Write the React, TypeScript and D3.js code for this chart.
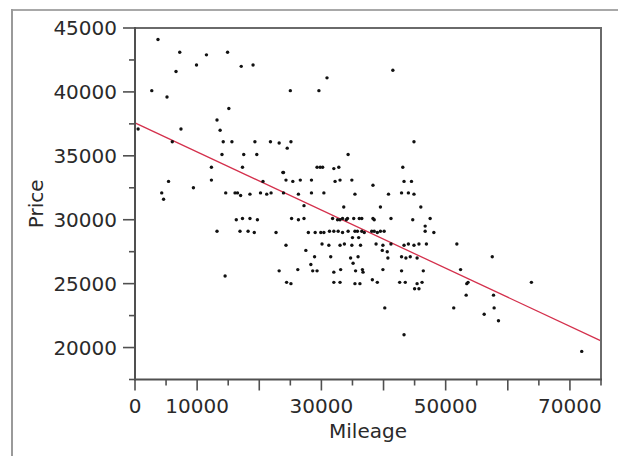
import React from "react";
import * as d3 from "d3";

const mileage = [
  3700, 7200, 11500, 14900, 6600, 9900, 17100, 19000, 2700, 5150,
  25000, 15100, 13200, 13700, 500, 7400, 6000, 14200, 15600, 19300,
  21800, 23200, 25100, 24500, 30900, 29600, 41500, 44900, 14000, 17500,
  19600, 34300, 12300, 17300, 23800, 23900, 29300, 29800, 30200, 32000,
  32800, 12300, 20600, 24300, 25400, 26600, 28400, 32200, 33000, 34900,
  38300, 14600, 16100, 16500, 17000, 18500, 20200, 21200, 21900, 23900,
  26300, 28400, 30400, 35400, 40800, 27200, 33600, 39500, 16300, 17300,
  18500, 19700, 25200, 26300, 27200, 31800, 32600, 33000, 33400, 34000,
  34200, 35200, 36100, 36500, 38300, 38500, 41200, 13200, 16900, 18200,
  19200, 22700, 27900, 29000, 29900, 30400, 31300, 32000, 32700, 33400,
  34300, 35400, 35800, 36500, 36900, 38100, 38500, 39000, 39500, 40100,
  35000, 36000, 24300, 30100, 31200, 33000, 33700, 34900, 36300, 38800,
  39900, 41200, 27500, 39800, 40600, 28900, 31500, 34700, 35900, 40700,
  28300, 35100, 23200, 26200, 28600, 29300, 32000, 33100, 35500, 36600,
  36700, 39900, 14500, 24400, 25100, 32000, 33000, 35400, 36200, 38200,
  39000, 42600, 43500, 45000, 45700, 45400, 46200, 40200, 51300, 43300,
  5400, 4300, 4600, 9400, 43100, 43300, 44500, 42900, 44000, 44900,
  46000, 44700, 47500, 46700, 46700, 48100, 43300, 44000, 44900, 45700,
  46900, 51800, 42900, 43600, 44300, 45400, 57500, 42900, 46400, 52400,
  53400, 53600, 53300, 57700, 63800, 57800, 56200, 58500, 71900,
];

const price = [
  44100, 43100, 42900, 43100, 41600, 42100, 42000, 42100, 40100, 39600,
  40100, 38700, 37800, 37000, 37100, 37100, 36100, 36100, 36100, 36100,
  36100, 36000, 36100, 35600, 41100, 40100, 41700, 36100, 35100, 35100,
  35100, 35100, 34100, 34100, 33700, 33700, 34100, 34100, 34100, 34000,
  34100, 33100, 33000, 33100, 33000, 33100, 33100, 33000, 33100, 33100,
  32700, 32100, 32100, 32100, 31900, 32000, 32100, 32000, 32100, 32100,
  32000, 32100, 32100, 32000, 32000, 31100, 31000, 31000, 30000, 30100,
  30100, 30000, 30100, 30000, 30100, 30100, 30000, 30000, 30100, 30000,
  30100, 30100, 30100, 30100, 30100, 30000, 30100, 29100, 29100, 29100,
  29000, 29000, 29000, 29000, 29000, 29000, 29100, 29100, 29100, 29000,
  29100, 29100, 29100, 29100, 29000, 29100, 29100, 29000, 29100, 29100,
  28600, 28600, 28000, 28100, 28000, 28000, 28100, 28000, 28000, 28100,
  28000, 28100, 27600, 27600, 27500, 27100, 27100, 27000, 27100, 27000,
  26500, 26600, 26000, 26100, 26000, 26000, 25900, 26100, 26000, 26100,
  25900, 26100, 25600, 25100, 25000, 25100, 25100, 25000, 25000, 25300,
  25100, 25100, 25100, 24600, 24600, 25000, 25100, 23100, 23100, 21000,
  33000, 32100, 31600, 32500, 34100, 33000, 33000, 32100, 32100, 32000,
  31000, 30000, 30100, 29500, 29100, 29000, 28000, 28100, 28000, 28100,
  28100, 28100, 27100, 27000, 27100, 27000, 27100, 26000, 26000, 26100,
  25000, 25100, 24100, 24100, 25100, 23100, 22600, 22100, 19700,
];

const fitIntercept = 37580;
const fitSlope = -0.2275;

const xMajorTicks = [0, 10000, 20000, 30000, 40000, 50000, 60000, 70000];
const xLabeledTicks = [0, 10000, 30000, 50000, 70000];
const xMinorTicks = [5000, 15000, 25000, 35000, 45000, 55000, 65000, 75000];
const yMajorTicks = [20000, 25000, 30000, 35000, 40000, 45000];
const yMinorTicks = [17500, 22500, 27500, 32500, 37500, 42500];

const xDomain = [0, 75000];
const yDomain = [17500, 45000];

const W = 618;
const H = 456;
const L = 135;
const R = 601;
const T = 28;
const B = 379.5;

export default function App() {
  const x = d3.scaleLinear().domain(xDomain).range([L, R]);
  const y = d3.scaleLinear().domain(yDomain).range([B, T]);
  const font = "'DejaVu Sans', Verdana, sans-serif";
  const axisColor = "#505050";
  const textColor = "#2a2a2a";
  const line = d3
    .line<number>()
    .x((d) => x(d))
    .y((d) => y(fitIntercept + fitSlope * d));

  return (
    <svg
      width={W}
      height={H}
      style={{ position: "absolute", left: 0, top: 0, background: "#fff" }}
      fontFamily={font}
    >
      <rect x={0} y={0} width={W} height={H} fill="#fff" />
      {/* outer frame */}
      <line x1={12} y1={10} x2={W} y2={10} stroke="#a8a8a8" strokeWidth={2} />
      <line x1={12} y1={9} x2={12} y2={H} stroke="#9a9a9a" strokeWidth={2} />

      {/* regression line */}
      <path d={line(xDomain) || ""} fill="none" stroke="#d4304c" strokeWidth={1.3} />

      {/* points */}
      {mileage.map((m, i) => (
        <circle key={i} cx={x(m)} cy={y(price[i])} r={1.7} fill="#111" />
      ))}

      {/* plot frame */}
      <line x1={L} y1={T} x2={R} y2={T} stroke="#6a6a6a" strokeWidth={2} />
      <line x1={R} y1={T - 1} x2={R} y2={B} stroke="#6a6a6a" strokeWidth={2} />
      <line x1={L} y1={T - 1} x2={L} y2={B + 1} stroke={axisColor} strokeWidth={2} />
      <line x1={L - 1} y1={B} x2={R + 1} y2={B} stroke={axisColor} strokeWidth={2} />

      {/* y ticks */}
      {yMajorTicks.map((t) => (
        <g key={"ym" + t}>
          <line x1={L - 12} x2={L} y1={y(t)} y2={y(t)} stroke={axisColor} strokeWidth={1.6} />
          <text
            x={L - 18}
            y={y(t)}
            dy="0.36em"
            textAnchor="end"
            fontSize={20}
            fill={textColor}
          >
            {t}
          </text>
        </g>
      ))}
      {yMinorTicks.map((t) => (
        <line key={"yn" + t} x1={L - 6} x2={L} y1={y(t)} y2={y(t)} stroke={axisColor} strokeWidth={1.6} />
      ))}

      {/* x ticks */}
      {xMajorTicks.map((t) => (
        <line key={"xm" + t} x1={x(t)} x2={x(t)} y1={B} y2={B + 11} stroke={axisColor} strokeWidth={1.6} />
      ))}
      {xMinorTicks.map((t) => (
        <line key={"xn" + t} x1={x(t)} x2={x(t)} y1={B} y2={B + 6} stroke={axisColor} strokeWidth={1.6} />
      ))}
      {xLabeledTicks.map((t) => (
        <text key={"xl" + t} x={x(t)} y={413} textAnchor="middle" fontSize={20} fill={textColor}>
          {t}
        </text>
      ))}

      {/* axis titles */}
      <text x={(L + R) / 2} y={438} textAnchor="middle" fontSize={20} fill={textColor}>
        Mileage
      </text>
      <text
        transform={`translate(43, ${(T + B) / 2}) rotate(-90)`}
        textAnchor="middle"
        fontSize={20}
        fill={textColor}
      >
        Price
      </text>
    </svg>
  );
}
